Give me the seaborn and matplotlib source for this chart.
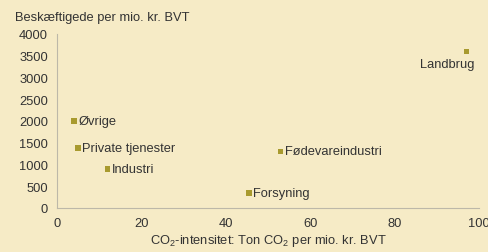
import matplotlib
matplotlib.use("Agg")
import matplotlib.pyplot as plt
import seaborn as sns
import pandas as pd

sectors = ["Øvrige", "Private tjenester", "Industri", "Forsyning", "Fødevareindustri", "Landbrug"]
co2_intensity = [4, 5, 12, 45.5, 53, 97]
employment = [2000, 1380, 900, 340, 1300, 3600]

BG = "#F6EBC6"
MARK = "#A89A2E"
TXT = "#333333"
GRID = "#BDB8A8"
FS = 9.3

sns.set_style("white")
plt.rcParams["font.family"] = ["Liberation Sans", "DejaVu Sans"]
plt.rcParams["mathtext.fontset"] = "custom"
plt.rcParams["mathtext.rm"] = "Liberation Sans"
plt.rcParams["mathtext.it"] = "Liberation Sans"

df = pd.DataFrame({"sector": sectors, "x": co2_intensity, "y": employment})

fig = plt.figure(figsize=(4.89, 2.53), dpi=100, facecolor=BG)
ax = fig.add_axes([0.1166, 0.174, 0.863, 0.688])
ax.set_facecolor(BG)

sns.scatterplot(data=df, x="x", y="y", ax=ax, marker="s", s=15,
                color=MARK, edgecolor="none", legend=False)

for _, r in df.iterrows():
    if r["sector"] == "Landbrug":
        ax.annotate(r["sector"], (r["x"], r["y"]), xytext=(6, -9),
                    textcoords="offset points", ha="right", va="center",
                    fontsize=FS, color=TXT)
    else:
        ax.annotate(r["sector"], (r["x"], r["y"]), xytext=(3, 0),
                    textcoords="offset points", ha="left", va="center",
                    fontsize=FS, color=TXT)

ax.set_xlim(0, 100)
ax.set_ylim(0, 4000)
ax.set_xticks(range(0, 101, 20))
ax.set_yticks(range(0, 4001, 500))
ax.tick_params(axis="both", labelsize=FS, colors=GRID, labelcolor=TXT,
               length=3, width=0.8, direction="out")
for s in ["top", "right"]:
    ax.spines[s].set_visible(False)
for s in ["left", "bottom"]:
    ax.spines[s].set_color(GRID)
    ax.spines[s].set_linewidth(0.8)

ax.set_xlabel(r"CO$_2$-intensitet: Ton CO$_2$ per mio. kr. BVT", fontsize=FS, color=TXT, labelpad=2)
ax.set_ylabel("")
fig.text(0.03, 0.93, "Beskæftigede per mio. kr. BVT", fontsize=FS, color=TXT, ha="left", va="center")

fig.savefig("out.png", dpi=100, facecolor=BG)
plt.close(fig)
